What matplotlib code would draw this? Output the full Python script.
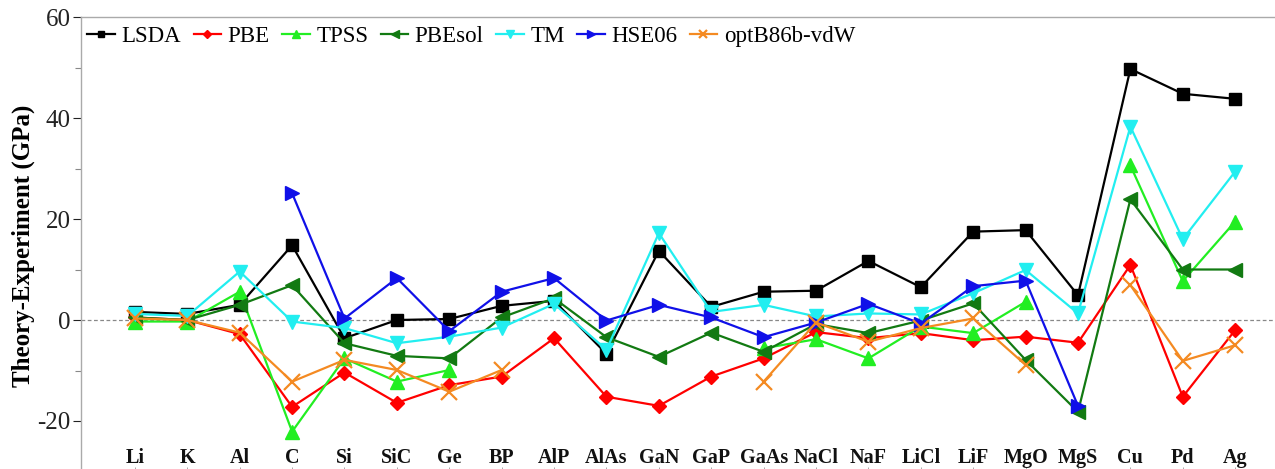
import numpy as np
import matplotlib
matplotlib.use('Agg')
import matplotlib.pyplot as plt
from matplotlib.transforms import blended_transform_factory

nan = np.nan

materials = ['Li', 'K', 'Al', 'C', 'Si', 'SiC', 'Ge', 'BP', 'AlP', 'AlAs', 'GaN',
             'GaP', 'GaAs', 'NaCl', 'NaF', 'LiCl', 'LiF', 'MgO', 'MgS', 'Cu', 'Pd', 'Ag']

# Theory - Experiment (GPa)
lsda = [1.6, 1.2, 3.0, 14.8, -3.6, 0.0, 0.2, 2.8, 3.8, -6.7, 13.7, 2.6, 5.6, 5.8,
        11.7, 6.5, 17.5, 17.8, 4.9, 49.7, 44.8, 43.8]
pbe = [0.5, 0.0, -2.8, -17.2, -10.4, -16.4, -12.9, -11.2, -3.6, -15.2, -17.0, -11.2,
       -7.6, -2.4, -3.6, -2.6, -4.0, -3.3, -4.5, 10.9, -15.2, -2.0]
tpss = [-0.3, -0.3, 5.6, -22.1, -7.6, -12.2, -9.9, nan, nan, nan, nan, nan,
        -5.6, -3.8, -7.6, -1.3, -2.6, 3.6, nan, 30.6, 7.7, 19.5]
pbesol = [0.5, 0.0, 3.0, 6.9, -4.6, -7.1, -7.6, 0.5, 4.3, -3.4, -7.3, -2.5,
          -6.3, -0.8, -2.6, -0.1, 3.3, -7.9, -18.2, 23.9, 10.0, 10.0]
tm = [1.2, 0.8, 9.6, -0.3, -1.6, -4.6, -3.3, -1.5, 3.2, -5.9, 17.2, 1.6,
      3.0, 0.7, 1.3, 1.1, 5.3, 9.9, 1.3, 38.3, 16.0, 29.4]
hse06 = [nan, nan, nan, 25.1, 0.3, 8.3, -2.2, 5.6, 8.3, -0.1, 3.0, 0.5,
         -3.4, -0.5, 3.2, -0.7, 6.7, 7.8, -17.0, nan, nan, nan]
optb86b = [0.3, 0.0, -2.5, -12.2, -7.9, -9.9, -14.2, -9.9, nan, nan, nan, nan,
           -12.2, -0.5, -4.3, -1.6, 0.3, -8.9, nan, 6.9, -8.1, -5.0]

plt.rcParams['font.family'] = ['Liberation Serif', 'DejaVu Serif']
plt.rcParams['axes.unicode_minus'] = False

fig = plt.figure(figsize=(12.75, 4.69), dpi=100)
ax = fig.add_axes([0.0635, -0.0107, 0.948, 0.9744])

x = np.arange(len(materials))
ax.axhline(0, color='#888888', lw=0.9, ls=(0, (3, 2)), zorder=1)

ax.plot(x, lsda, color='black', marker='s', ms=8.5, lw=1.6, label='LSDA')
ax.plot(x, pbe, color='#ff0000', marker='D', ms=7, lw=1.6, label='PBE')
ax.plot(x, tpss, color='#22ee22', marker='^', ms=10, lw=1.6, label='TPSS')
ax.plot(x, pbesol, color='#127a12', marker='<', ms=10, lw=1.6, label='PBEsol')
ax.plot(x, tm, color='#22eef0', marker='v', ms=10, lw=1.6, label='TM')
ax.plot(x, hse06, color='#1010e8', marker='>', ms=10, lw=1.6, label='HSE06')
ax.plot(x, optb86b, color='#f48a22', marker='x', ms=11, mew=1.6, lw=1.6, label='optB86b-vdW')

ax.set_xlim(-1.03, 22.04)
ax.set_ylim(-30.5, 60)
ax.set_yticks([-20, 0, 20, 40, 60])
ax.set_yticks([-10, 10, 30, 50], minor=True)
ax.tick_params(axis='y', which='major', length=6, width=0.8, labelsize=18, pad=1.5,
               colors='#222222')
ax.tick_params(axis='y', which='minor', length=4, width=0.8, colors='#888888')
ax.set_xticks(x)
ax.set_xticklabels([])
ax.tick_params(axis='x', direction='in', length=5, width=0.6, colors='#999999')

for s in ax.spines.values():
    s.set_color('#aaaaaa')
    s.set_linewidth(1.0)

trans = blended_transform_factory(ax.transData, ax.transAxes)
for xi, name in zip(x, materials):
    ax.text(xi, 0.036, name, transform=trans, ha='center', va='center',
            fontsize=14.5, fontweight='bold', color='#111111')

ax.set_ylabel('Theory-Experiment (GPa)', fontsize=18, fontweight='bold', labelpad=2)

ax.legend(loc='upper left', bbox_to_anchor=(-0.006, 1.01), ncol=7, frameon=False,
          fontsize=16.5, handlelength=1.2, handletextpad=0.28, columnspacing=0.55,
          markerscale=0.55, borderaxespad=0.2)

fig.savefig('out.png', dpi=100)
